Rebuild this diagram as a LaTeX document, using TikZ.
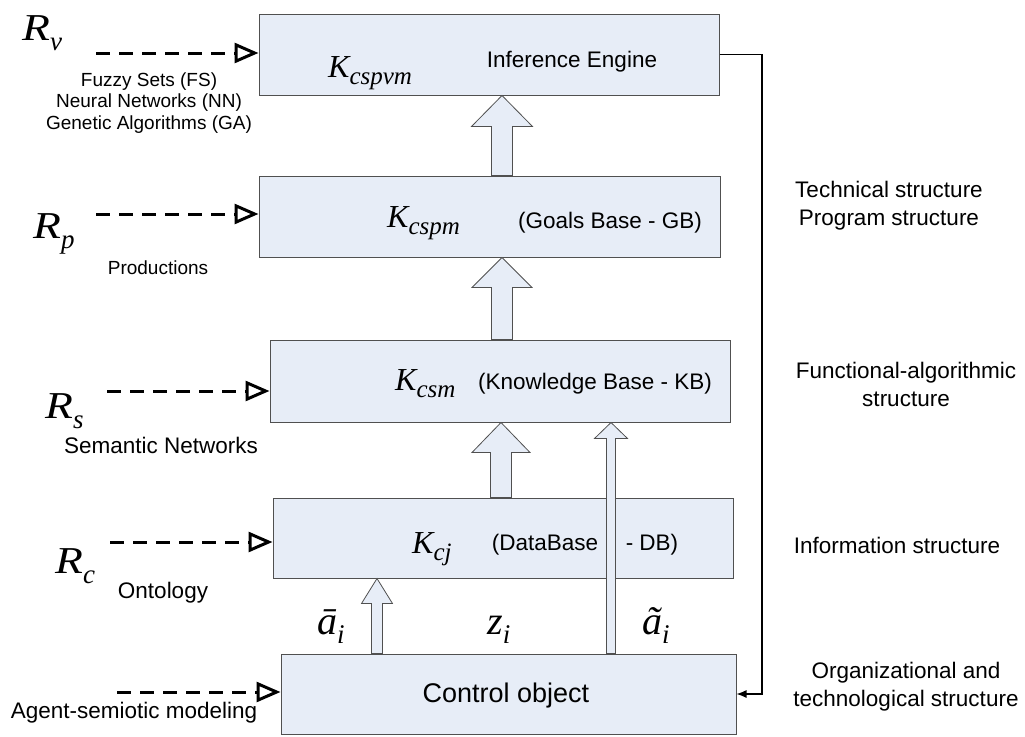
\documentclass[tikz,border=0pt]{standalone}
\usepackage{fontspec}
\setmainfont{Liberation Sans}
\newfontfamily\tnr{Liberation Serif}
\usetikzlibrary{arrows.meta,calc}
\definecolor{boxfill}{RGB}{231,237,247}
\definecolor{boxline}{RGB}{80,80,80}
\newcommand\Rsym[1]{\fontsize{38}{38}\tnr\itshape\scalebox{1.2}[1]{R}\raisebox{-10pt}{\fontsize{27}{27}\selectfont #1}}
\newcommand\Ksym[1]{\fontsize{32}{32}\tnr\itshape K\raisebox{-7pt}{\fontsize{25}{25}\selectfont #1}}
\newcommand\asym[2]{\fontsize{40}{40}\tnr\itshape #1\raisebox{-9pt}{\fontsize{27}{27}\selectfont #2}}
\newcommand\blockup[6]{\draw[blk] let \p1=(#1), \p2=(#2) in
  ({#3-#4},\y1) -- ({#3-#4},{\y2-#6pt}) -- ({#3-#5},{\y2-#6pt}) -- (#3,\y2)
  -- ({#3+#5},{\y2-#6pt}) -- ({#3+#4},{\y2-#6pt}) -- ({#3+#4},\y1) -- cycle;}
\begin{document}
\begin{tikzpicture}[x=1pt,y=-1pt,
  blockbox/.style={draw=boxline,fill=boxfill,line width=1pt,inner sep=0pt},
  blk/.style={draw=boxline,fill=boxfill,line width=0.8pt,line join=miter},
  inarrow/.style={line width=3pt,dash pattern=on 14pt off 9pt,
    -{Triangle[open,length=24pt,width=20pt]}},
  fbarrow/.style={line width=1.2pt,-{Latex[length=10pt,width=8pt]}},
  txt/.style={font=\fontsize{22.5}{28}\selectfont,inner sep=0pt},
  small/.style={font=\fontsize{19}{21.5}\selectfont,inner sep=0pt},
  sym/.style={anchor=base west,inner sep=0pt}]
\useasboundingbox (0,0) rectangle (1025,736);
% boxes
\node[blockbox,minimum width=460pt,minimum height=81pt] (ie) at (489,54.5) {};
\node[blockbox,minimum width=461pt,minimum height=81pt] (gb) at (489.5,216.5) {};
\node[blockbox,minimum width=460pt,minimum height=82pt] (kb) at (500,381) {};
\node[blockbox,minimum width=460pt,minimum height=80pt] (db) at (503,538) {};
\node[blockbox,minimum width=455pt,minimum height=80pt] (co) at (508.5,694) {};
% box contents
\node[sym] (kie) at (328,77) {\Ksym{cspvm}};
\node[txt] (tie) at (572,62) {Inference Engine};
\node[sym] (kgb) at (387,227) {\Ksym{cspm}};
\node[txt] (tgb) at (610,223) {(Goals Base - GB)};
\node[sym] (kkb) at (395,390) {\Ksym{csm}};
\node[txt] (tkb) at (595,384) {(Knowledge Base - KB)};
\node[sym] (kdb) at (412,553) {\Ksym{cj}};
\node[txt] (tdb1) at (545,545) {(DataBase};
\node[txt] (tdb2) at (652,545) {- DB)};
\node[font=\fontsize{27}{32}\selectfont,inner sep=0pt] (tco) at (506,696) {Control object};
% block arrows
\blockup{gb.north}{ie.south}{502}{10.5}{30.5}{31}
\blockup{kb.north}{gb.south}{502}{10.5}{30}{30}
\blockup{db.north}{kb.south}{501}{10.5}{29}{30}
\blockup{co.north}{db.south}{377}{5.5}{15.5}{25}
\blockup{co.north}{kb.south}{611}{4.5}{16.5}{16}
% labels between control object and DB
\node[sym] (abar) at (317,634) {\asym{ā}{i}};
\node[sym] (zi) at (487,634) {\asym{z}{i}};
\node[sym] (atil) at (642,634) {\asym{ã}{i}};
% left inputs
\node[sym] (rv) at (22,40) {\Rsym{v}};
\node[sym] (rp) at (33,238) {\Rsym{p}};
\node[sym] (rs) at (45,418) {\Rsym{s}};
\node[sym] (rc) at (55,573) {\Rsym{c}};
\coordinate (v0) at (96,53);
\coordinate (p0) at (96,214);
\coordinate (s0) at (107,391);
\coordinate (c0) at (110,542);
\coordinate (a0) at (117,692);
\draw[inarrow] (v0) -- (v0 -| ie.west);
\draw[inarrow] (p0) -- (p0 -| gb.west);
\draw[inarrow] (s0) -- (s0 -| kb.west);
\draw[inarrow] (c0) -- (c0 -| db.west);
\draw[inarrow] (a0) -- (a0 -| co.west);
\node[small,align=center] (fz) at (149,103) {Fuzzy Sets (FS)\\Neural Networks (NN)\\Genetic Algorithms (GA)};
\node[small] (prod) at (158,268) {Productions};
\node[txt] (sem) at (161,445) {Semantic Networks};
\node[txt] (ont) at (163,593) {Ontology};
\node[txt] (agent) at (134,713) {Agent-semiotic modeling};
% feedback
\coordinate (fbx) at (762,0);
\draw[fbarrow] (ie.east) -- (ie.east -| fbx) -- (fbx |- co.east) -- (co.east);
% right labels
\node[txt,align=center] (tech) at (889,206) {Technical structure\\Program structure};
\node[txt,align=center] (func) at (906,384) {Functional-algorithmic\\structure};
\node[txt] (info) at (897,545) {Information structure};
\node[txt,align=center] (org) at (906,687) {Organizational and\\technological structure};
\end{tikzpicture}
\end{document}
